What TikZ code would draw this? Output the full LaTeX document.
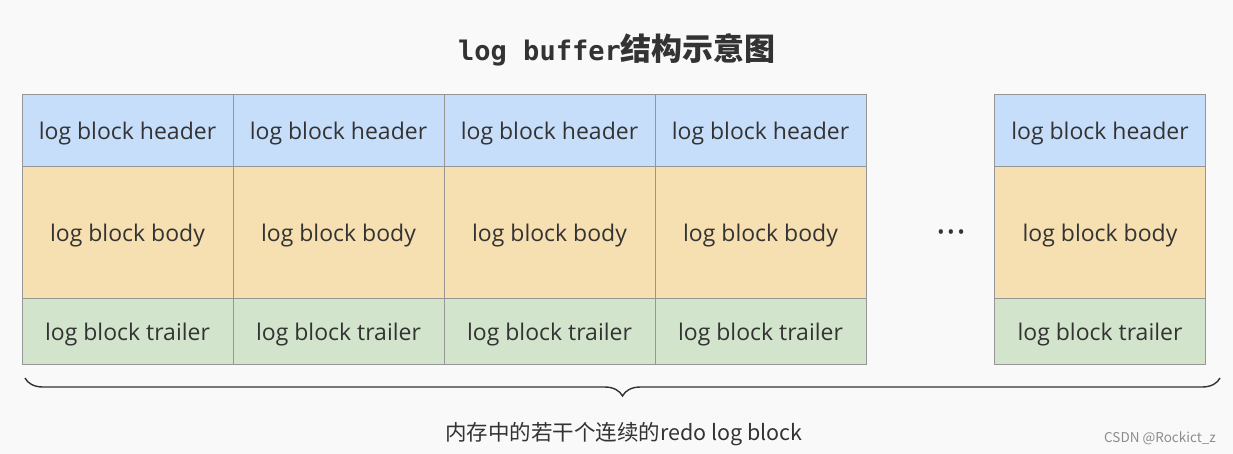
\documentclass[tikz,border=0pt]{standalone}
\usepackage{fontspec}
\usepackage{xcolor}
\setmainfont{Open Sans}
\newfontfamily\cjk{Noto Sans CJK SC}
\newfontfamily\titlemono{DejaVu Sans Mono}
\usetikzlibrary{decorations.pathreplacing}
\definecolor{headblue}{RGB}{199, 222, 250}
\definecolor{bodyorange}{RGB}{246, 223, 177}
\definecolor{trailgreen}{RGB}{210, 228, 204}
\definecolor{cellline}{RGB}{150, 150, 150}
\definecolor{pagebg}{RGB}{249, 249, 249}
\definecolor{inkgray}{RGB}{51, 51, 51}

\begin{document}
\begin{tikzpicture}[x=1pt, y=-1pt,
        cell/.style = {draw=cellline, line width=0.8pt, minimum width=211pt, inner sep=0pt,
                       text height=25pt, text depth=6pt,
                       text=inkgray, font=\fontsize{23}{27}\selectfont},
        headcell/.style = {cell, fill=headblue, minimum height=72pt},
        bodycell/.style = {cell, fill=bodyorange, minimum height=132pt},
        tailcell/.style = {cell, fill=trailgreen, minimum height=66pt}]
        \fill[pagebg] (0,0) rectangle (1233,454);
        \node[text=inkgray] (title) at (617, 50)
                {\titlemono\bfseries\fontsize{27}{31}\selectfont log buffer\cjk\bfseries\fontsize{31}{35}\selectfont 结构示意图};
        % the blocks
        \foreach \i/\x in {1/127.5, 2/338.5, 3/549.5, 4/760.5, 5/1100} {
                \node[headcell] (h\i) at (\x, 130) {log block header};
                \node[bodycell] (b\i) at (\x, 232) {log block body};
                \node[tailcell] (t\i) at (\x, 331) {log block trailer};
        }
        \node[text=inkgray, font=\bfseries\fontsize{15}{15}\selectfont] (ell) at (951, 234)
                {\textbullet\hspace{4.5pt}\textbullet\hspace{4.5pt}\textbullet};
        % brace under the buffer
        \coordinate (brL) at (25, 378);
        \coordinate (brR) at (1220, 378);
        \draw[inkgray, line width=1.4pt, decorate, decoration={brace, mirror, amplitude=18pt}] (brL) -- (brR);
        \node[text=inkgray] (caption) at (624, 434)
                {\cjk\fontsize{21.5}{25}\selectfont 内存中的若干个连续的redo log block};
        \node[text=black!45] (mark) at (1160, 438) {\cjk\fontsize{13.5}{15}\selectfont CSDN @Rockict\_z};
\end{tikzpicture}
\end{document}
